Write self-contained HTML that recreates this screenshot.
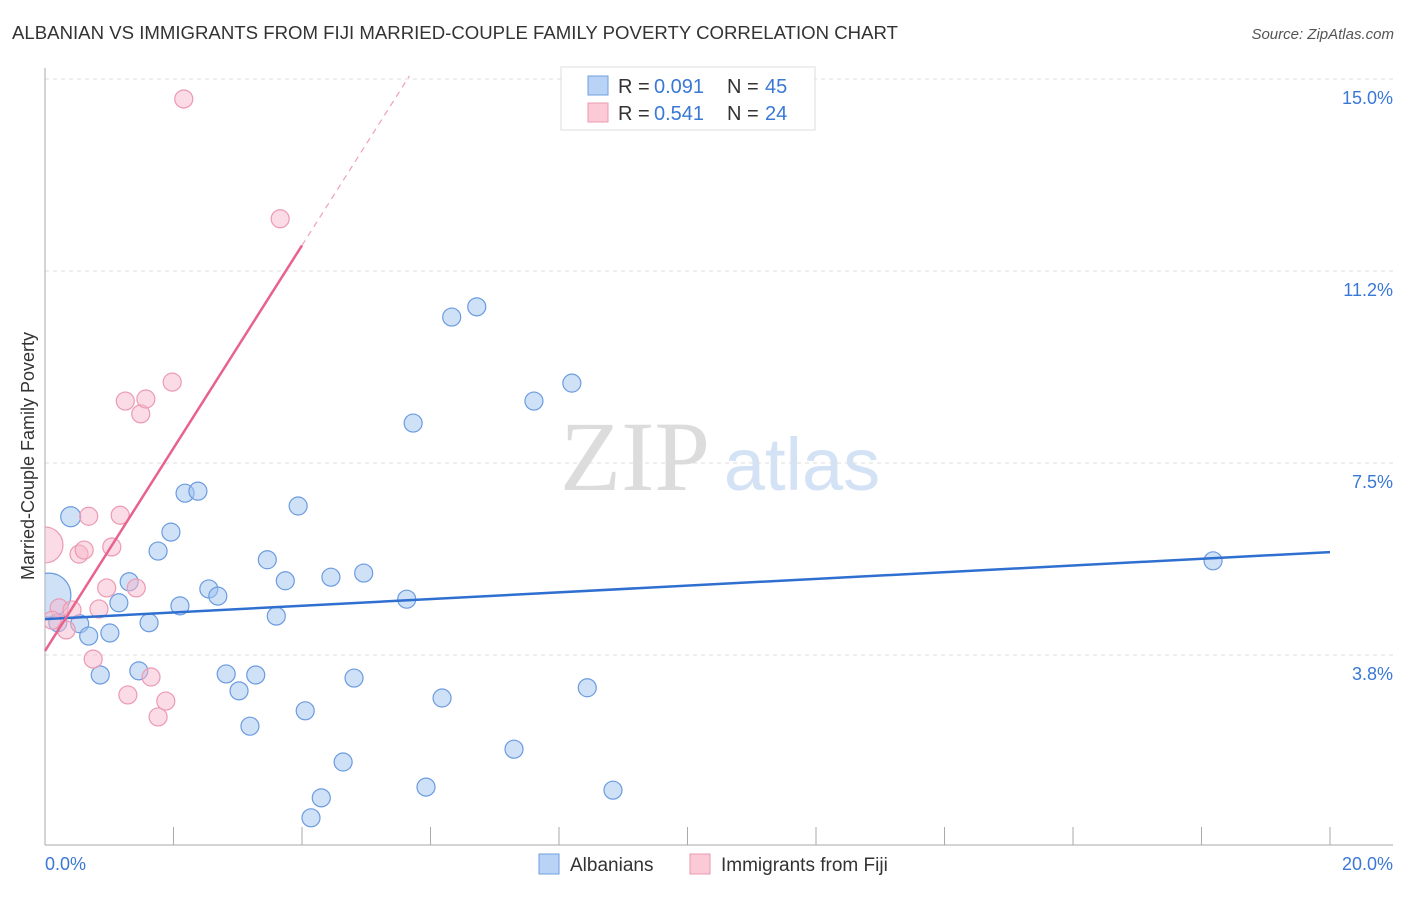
<!DOCTYPE html>
<html><head><meta charset="utf-8"><style>
body{margin:0;background:#fff;font-family:"Liberation Sans",sans-serif;}
</style></head><body>
<svg id="chart" width="1406" height="892" xmlns="http://www.w3.org/2000/svg" font-family="Liberation Sans, sans-serif">
<defs><clipPath id="plotclip"><rect x="45" y="60" width="1360" height="785"/></clipPath></defs>
<text x="12" y="39" font-size="18" fill="#333" textLength="886" lengthAdjust="spacingAndGlyphs">ALBANIAN VS IMMIGRANTS FROM FIJI MARRIED-COUPLE FAMILY POVERTY CORRELATION CHART</text>
<text x="1394" y="39" font-size="15" fill="#555" font-style="italic" text-anchor="end">Source: ZipAtlas.com</text>
<g>
<text x="635" y="490" font-size="100" style="font-family:'Liberation Serif',serif" fill="#dcdcdc" text-anchor="middle">ZIP</text>
<text x="802" y="490" font-size="74" fill="#d3e2f5" text-anchor="middle">atlas</text>
</g>
<g id="grid"></g><g id="axes"></g><g id="pts" clip-path="url(#plotclip)"></g><g id="lines"></g>
<text transform="translate(34,456) rotate(-90)" font-size="18" fill="#333" text-anchor="middle">Married-Couple Family Poverty</text>
<g>
<rect x="561" y="67" width="254" height="63" fill="#fff" stroke="#ddd"/>
<rect x="588" y="76" width="20" height="19" fill="#b8d3f5" stroke="#6f9fdf"/>
<text x="618" y="93" font-size="20" fill="#333">R =</text><text x="654" y="93" font-size="20" fill="#3a78d6">0.091</text>
<text x="727" y="93" font-size="20" fill="#333">N =</text><text x="765" y="93" font-size="20" fill="#3a78d6">45</text>
<rect x="588" y="103" width="20" height="19" fill="#fcc9d7" stroke="#e99ab0"/>
<text x="618" y="120" font-size="20" fill="#333">R =</text><text x="654" y="120" font-size="20" fill="#3a78d6">0.541</text>
<text x="727" y="120" font-size="20" fill="#333">N =</text><text x="765" y="120" font-size="20" fill="#3a78d6">24</text>
</g>
<g>
<rect x="539" y="854" width="20" height="20" fill="#b8d3f5" stroke="#6f9fdf"/>
<text x="570" y="871" font-size="19" fill="#333">Albanians</text>
<rect x="690" y="854" width="20" height="20" fill="#fcc9d7" stroke="#e99ab0"/>
<text x="721" y="871" font-size="19" fill="#333">Immigrants from Fiji</text>
</g>
</svg>
<script>
const blueX=[0.40,0.06,0.20,0.54,0.68,1.01,0.86,1.15,1.31,1.46,1.62,1.76,1.96,2.10,2.18,2.38,2.55,2.69,2.82,3.02,3.19,3.28,3.46,3.60,3.74,3.94,4.05,4.30,4.14,4.45,4.64,4.81,4.96,5.63,5.73,5.93,6.18,6.33,6.72,7.30,7.61,8.20,8.44,8.84,18.18];
const blueY=[6.45,4.92,4.38,4.36,4.12,4.18,3.36,4.77,5.18,3.44,4.38,5.78,6.15,4.71,6.91,6.95,5.04,4.90,3.38,3.05,2.36,3.36,5.61,4.51,5.20,6.66,2.66,0.96,0.57,5.27,1.66,3.30,5.35,4.84,8.28,1.17,2.91,10.35,10.55,1.91,8.71,9.06,3.11,1.11,5.59];
const blueR=[10,22,9,9,9,9,9,9,9,9,9,9,9,9,9,9,9,9,9,9,9,9,9,9,9,9,9,9,9,9,9,9,9,9,9,9,9,9,9,9,9,9,9,9,9];
const pinkX=[0,0.22,0.33,0.42,0.53,0.61,0.75,0.84,0.96,1.04,1.17,1.25,1.29,1.42,1.49,1.57,1.65,1.76,1.88,1.98,2.16,3.66,0.68,0.11];
const pinkY=[5.90,4.67,4.24,4.63,5.72,5.80,3.67,4.65,5.06,5.86,6.48,8.71,2.97,5.06,8.46,8.75,3.32,2.54,2.85,9.08,14.61,12.27,6.46,4.43];
const pinkR=[18,9,9,9,9,9,9,9,9,9,9,9,9,9,9,9,9,9,9,9,9,9,9,9];
const yTicks=[3.75,7.5,11.25,15];
const yTickLabels=["3.8%","7.5%","11.2%","15.0%"];
const xTicks=[0,2,4,6,8,10,12,14,16,18,20];
const blueTrend=[4.45,0.0655];
const pinkTrend=[3.83,1.98];
const NS="http://www.w3.org/2000/svg";
const X=v=>45+v*64.25, Y=v=>847-v*51.2;
function mk(p,t,a){const e=document.createElementNS(NS,t);for(const k in a)e.setAttribute(k,a[k]);document.getElementById(p).appendChild(e);return e;}
yTicks.forEach((t,i)=>{
 const g=mk('grid','line',{x1:45,x2:1393,y1:Y(t),y2:Y(t),stroke:'#ddd','stroke-dasharray':'4,4'});
 
 
 const l=mk('axes','text',{x:1393,y:Y(t)+25,'font-size':18,fill:'#3a78d6','text-anchor':'end'});
 l.textContent=yTickLabels[i];
 
 
});
const ya=mk('axes','line',{x1:45,x2:45,y1:68,y2:845,stroke:'#aaa'});


const xa=mk('axes','line',{x1:45,x2:1393,y1:845,y2:845,stroke:'#aaa'});


xTicks.forEach(t=>{
 const e=mk('axes','line',{x1:X(t),x2:X(t),y1:827,y2:845,stroke:'#aaa'});
 
 
});
[[0,'0.0%','start',45],[20,'20.0%','end',1393]].forEach(d=>{
 const e=mk('axes','text',{x:d[3],y:870,'font-size':18,fill:'#3a78d6','text-anchor':d[2]});
 e.textContent=d[1];
 
 
});
blueX.forEach((v,i)=>{
 const c=mk('pts','circle',{cx:X(v),cy:Y(blueY[i]),r:blueR[i],fill:'rgba(160,196,240,0.5)',stroke:'#6b9be0','stroke-width':1.2});
 
 
});
pinkX.forEach((v,i)=>{
 const c=mk('pts','circle',{cx:X(v),cy:Y(pinkY[i]),r:pinkR[i],fill:'rgba(248,184,204,0.5)',stroke:'#eb9ab2','stroke-width':1.2});
 
 
});
const bl=mk('lines','line',{x1:X(0),y1:Y(blueTrend[0]),x2:X(20),y2:Y(blueTrend[0]+blueTrend[1]*20),stroke:'#2f6fd0','stroke-width':2.5});


const pEnd=4.0, pMax=(15.06-pinkTrend[0])/pinkTrend[1];
const pl=mk('lines','line',{x1:X(0),y1:Y(pinkTrend[0]),x2:X(pEnd),y2:Y(pinkTrend[0]+pinkTrend[1]*pEnd),stroke:'#e8628e','stroke-width':2.5});


const pd=mk('lines','line',{x1:X(pEnd),y1:Y(pinkTrend[0]+pinkTrend[1]*pEnd),x2:X(pMax),y2:Y(pinkTrend[0]+pinkTrend[1]*pMax),stroke:'#f0a0b8','stroke-width':1.2,'stroke-dasharray':'6,5'});


</script>
</body></html>
